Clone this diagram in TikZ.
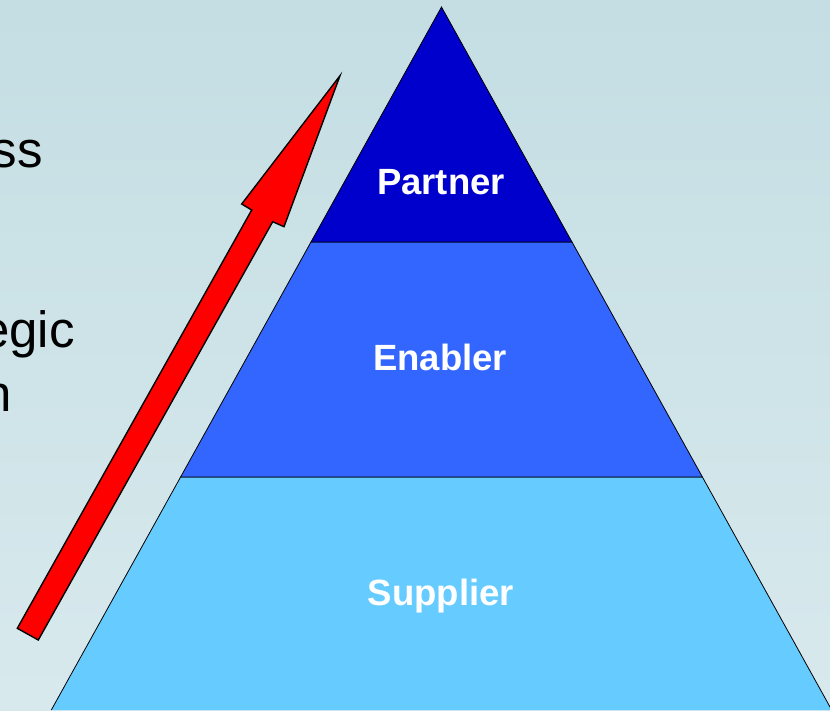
\documentclass[tikz,border=0pt]{standalone}
\usepackage{fontspec}
\setmainfont{Liberation Sans}
\definecolor{bgtop}{HTML}{C4DEE3}
\definecolor{bgbot}{HTML}{D8E9ED}
\definecolor{partnerc}{HTML}{0000CC}
\definecolor{enablerc}{HTML}{3366FF}
\definecolor{supplierc}{HTML}{66CCFF}
\tikzset{
  layer/.style={draw=black, line width=0.8pt},
  lvl/.style={text=white, font=\fontsize{36.5}{40}\selectfont\bfseries, anchor=base, inner sep=0pt},
  side/.style={text=black, font=\fontsize{51}{60}\selectfont, anchor=base east, inner sep=0pt},
  bigarrow/.style={draw=black, fill=red, line width=1.4pt, line join=miter}
}
\begin{document}
\begin{tikzpicture}[x=1pt,y=-1pt]
\useasboundingbox (0,0) rectangle (830,710);
\shade[top color=bgtop, bottom color=bgbot] (0,0) rectangle (830,710);
% side text fragments
\node[side] (t1) at (43,167) {ss};
\node[side] (t2) at (75,347) {egic};
\node[side] (t3) at (12.5,411) {n};
% pyramid layers
\fill[supplierc] (180.6,477) -- (702.4,477) -- (831.7,710) -- (51.3,710) -- cycle;
\draw[layer] (51.3,710) -- (180.6,477) -- (702.4,477) -- (831.7,710);
\filldraw[layer, fill=enablerc] (311,242) -- (572,242) -- (702.4,477) -- (180.6,477) -- cycle;
\filldraw[layer, fill=partnerc] (441.5,7) -- (572,242) -- (311,242) -- cycle;
\node[lvl] (partner) at (441,194) {Partner};
\node[lvl] (enabler) at (440,370.5) {Enabler};
\node[lvl] (supplier) at (441,605) {Supplier};
% red arrow
\draw[bigarrow] (17.3,628.3) -- (251.7,210) -- (241.7,204) -- (340,75.7)
  -- (284,226.7) -- (272.7,221.7) -- (38.3,640) -- cycle;
\end{tikzpicture}
\end{document}
